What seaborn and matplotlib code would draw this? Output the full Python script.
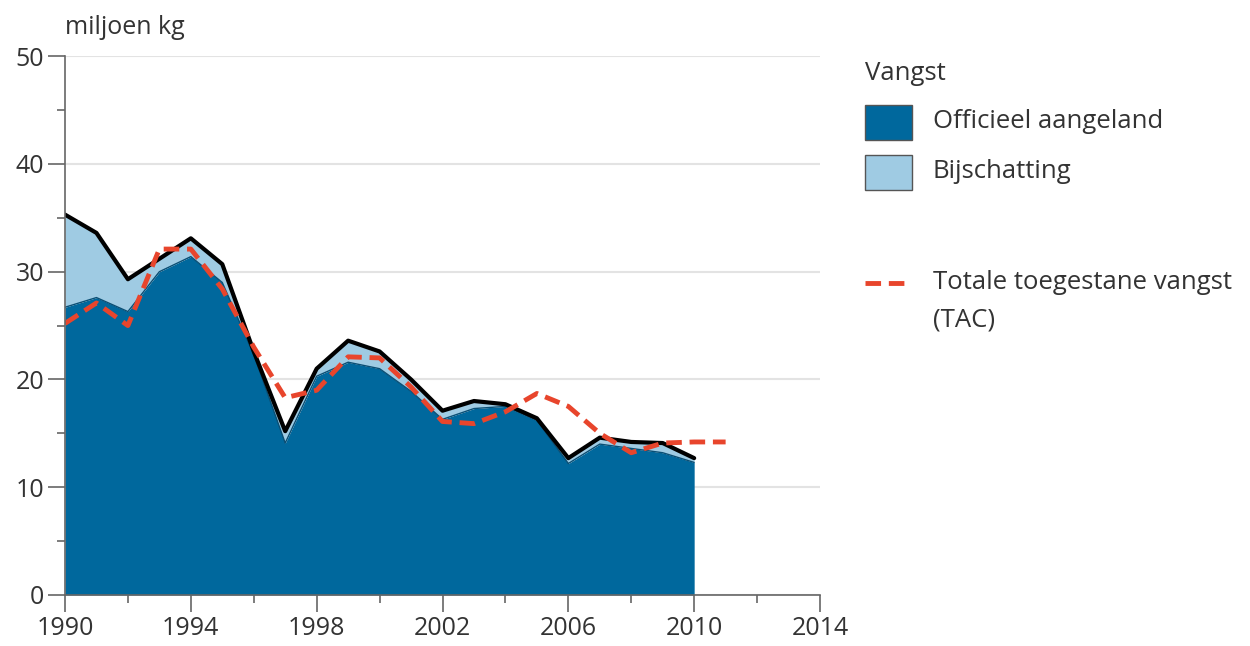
import matplotlib
matplotlib.use("Agg")
import matplotlib.pyplot as plt
import seaborn as sns
import pandas as pd
from matplotlib.patches import Rectangle
from matplotlib.lines import Line2D
from matplotlib.ticker import MultipleLocator

years = list(range(1990, 2011))
officieel = [26.7, 27.6, 26.3, 30.0, 31.4, 29.0, 22.3, 14.1, 20.3, 21.6, 21.0,
             18.9, 16.3, 17.3, 17.5, 16.2, 12.2, 14.0, 13.6, 13.2, 12.3]
totaal = [35.3, 33.6, 29.3, 31.2, 33.1, 30.7, 22.6, 15.2, 21.0, 23.6, 22.6,
          20.0, 17.1, 18.0, 17.7, 16.4, 12.7, 14.6, 14.2, 14.1, 12.7]
tac_years = list(range(1990, 2012))
tac = [25.2, 27.1, 25.0, 32.1, 32.1, 28.4, 23.0, 18.3, 19.0, 22.1, 22.0,
       19.3, 16.1, 15.9, 17.0, 18.7, 17.5, 15.0, 13.2, 14.1, 14.2, 14.2]
x_major = [1990, 1994, 1998, 2002, 2006, 2010, 2014]
x_minor = [1992, 1996, 2000, 2004, 2008, 2012]

y_label = "miljoen kg"
legend_title = "Vangst"
lab_off = "Officieel aangeland"
lab_bij = "Bijschatting"
lab_tac = "Totale toegestane vangst\n(TAC)"

dark_blue = "#00689d"
light_blue = "#9fcbe3"
red = "#e8452c"
txt = "#333333"

sns.set_theme(style="white")
plt.rcParams['font.family'] = ['Open Sans', 'DejaVu Sans']

df = pd.DataFrame({"jaar": years, "officieel": officieel, "totaal": totaal})
dft = pd.DataFrame({"jaar": tac_years, "tac": tac})

fig = plt.figure(figsize=(12.5, 6.46), dpi=100)
ax = fig.add_axes([0.052, 0.079, 0.604, 0.834])

ax.fill_between(df["jaar"], 0, df["officieel"], color=dark_blue, lw=0, zorder=2)
ax.fill_between(df["jaar"], df["officieel"], df["totaal"], color=light_blue, lw=0, zorder=2)
sns.lineplot(data=df, x="jaar", y="officieel", ax=ax, color="#0a4f75", lw=1.0, zorder=3)
sns.lineplot(data=df, x="jaar", y="totaal", ax=ax, color="black", lw=3, zorder=4)
sns.lineplot(data=dft, x="jaar", y="tac", ax=ax, color=red, lw=3.5, zorder=5,
             dashes=False, linestyle=(0, (3.2, 1.6)))

ax.set_xlim(1990, 2014)
ax.set_ylim(0, 50)
ax.set_xticks(x_major)
ax.set_xticks(x_minor, minor=True)
ax.yaxis.set_major_locator(MultipleLocator(10))
ax.yaxis.set_minor_locator(MultipleLocator(5))
ax.set_xlabel("")
ax.set_ylabel("")
ax.grid(axis="y", which="major", color="#e3e3e3", lw=1.5, zorder=0)
ax.set_axisbelow(True)
for s in ["top", "right"]:
    ax.spines[s].set_visible(False)
for s in ["left", "bottom"]:
    ax.spines[s].set_color("#666666")
    ax.spines[s].set_linewidth(1.2)
    ax.spines[s].set_zorder(6)
ax.tick_params(axis="both", which="major", direction="out", length=12, width=1.2,
               color="#666666", labelsize=18, labelcolor=txt, pad=3, bottom=True, left=True)
ax.tick_params(axis="both", which="minor", direction="out", length=6, width=1.2,
               color="#666666", bottom=True, left=True)

fig.text(0.052, 0.958, y_label, fontsize=18, color=txt, ha="left", va="center")

# legend drawn manually in figure coordinates
W, H = 1250.0, 646.0
fs = 18.5
fig.text(865 / W, 1 - 73 / H, legend_title, fontsize=fs, color=txt, ha="left", va="center")
fig.add_artist(Rectangle((865 / W, 1 - 140 / H), 47 / W, 35 / H, transform=fig.transFigure,
                         facecolor=dark_blue, edgecolor="#555555", lw=1))
fig.text(933 / W, 1 - 122 / H, lab_off, fontsize=fs, color=txt, ha="left", va="center")
fig.add_artist(Rectangle((865 / W, 1 - 190 / H), 47 / W, 35 / H, transform=fig.transFigure,
                         facecolor=light_blue, edgecolor="#555555", lw=1))
fig.text(933 / W, 1 - 172 / H, lab_bij, fontsize=fs, color=txt, ha="left", va="center")
fig.add_artist(Line2D([865 / W, 910 / W], [1 - 283 / H] * 2, transform=fig.transFigure,
                      color=red, lw=3.5, linestyle=(0, (3.2, 1.6))))
fig.text(933 / W, 1 - 283 / H, lab_tac.split("\n")[0], fontsize=fs, color=txt, ha="left", va="center")
fig.text(933 / W, 1 - 320 / H, lab_tac.split("\n")[1], fontsize=fs, color=txt, ha="left", va="center")

fig.savefig("out.png", dpi=100)
